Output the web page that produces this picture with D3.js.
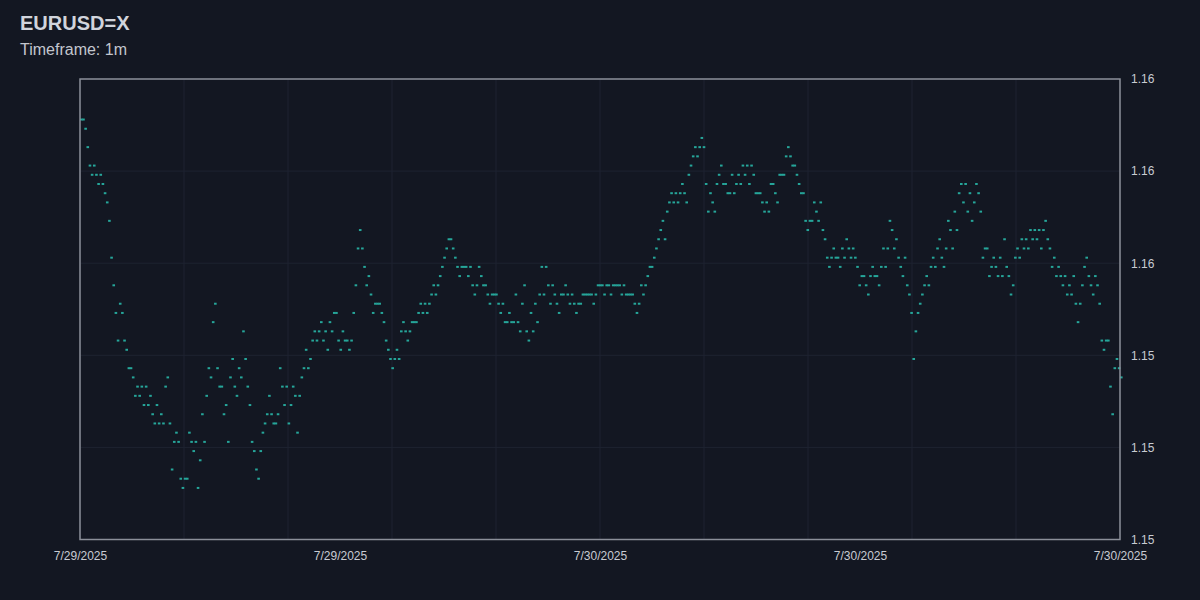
<!DOCTYPE html>
<html>
<head>
<meta charset="utf-8">
<script src="https://cdn.jsdelivr.net/npm/d3@7"></script>
<style>
  html, body { margin: 0; padding: 0; background: #131722; }
  svg { display: block; }
</style>
</head>
<body>
<svg id="chart"></svg>
<script>
const symbol = "EURUSD=X";
const timeframe = "1m";
const startTime = new Date(2025, 6, 29, 12, 0);
const stepMinutes = 3;

const closes = [
  1.1565, 1.1565, 1.1564, 1.1562, 1.1560, 1.1559, 1.1560, 1.1559, 1.1558, 1.1559,
  1.1558, 1.1557, 1.1556, 1.1554, 1.1550, 1.1547, 1.1544, 1.1541, 1.1545, 1.1544,
  1.1541, 1.1540, 1.1538, 1.1538, 1.1537, 1.1535, 1.1536, 1.1535, 1.1536, 1.1534,
  1.1536, 1.1534, 1.1535, 1.1533, 1.1532, 1.1534, 1.1532, 1.1533, 1.1532, 1.1536,
  1.1537, 1.1532, 1.1527, 1.1530, 1.1531, 1.1530, 1.1526, 1.1525, 1.1526, 1.1526,
  1.1531, 1.1530, 1.1529, 1.1530, 1.1525, 1.1528, 1.1533, 1.1530, 1.1535, 1.1538,
  1.1537, 1.1543, 1.1545, 1.1538, 1.1536, 1.1536, 1.1533, 1.1534, 1.1530, 1.1537,
  1.1539, 1.1536, 1.1535, 1.1538, 1.1537, 1.1542, 1.1539, 1.1536, 1.1534, 1.1530,
  1.1529, 1.1527, 1.1526, 1.1529, 1.1531, 1.1532, 1.1533, 1.1535, 1.1533, 1.1532,
  1.1532, 1.1533, 1.1538, 1.1536, 1.1534, 1.1536, 1.1532, 1.1534, 1.1536, 1.1535,
  1.1531, 1.1535, 1.1537, 1.1538, 1.1540, 1.1538, 1.1539, 1.1541, 1.1542, 1.1541,
  1.1542, 1.1543, 1.1541, 1.1542, 1.1540, 1.1543, 1.1542, 1.1544, 1.1544, 1.1541,
  1.1540, 1.1542, 1.1541, 1.1541, 1.1540, 1.1541, 1.1544, 1.1547, 1.1551, 1.1553,
  1.1551, 1.1549, 1.1547, 1.1548, 1.1546, 1.1544, 1.1545, 1.1545, 1.1545, 1.1544,
  1.1543, 1.1541, 1.1540, 1.1539, 1.1538, 1.1539, 1.1540, 1.1539, 1.1542, 1.1543,
  1.1542, 1.1541, 1.1542, 1.1543, 1.1543, 1.1543, 1.1544, 1.1545, 1.1544, 1.1545,
  1.1544, 1.1545, 1.1546, 1.1547, 1.1546, 1.1547, 1.1548, 1.1549, 1.1550, 1.1551,
  1.1552, 1.1552, 1.1551, 1.1550, 1.1549, 1.1548, 1.1549, 1.1549, 1.1549, 1.1548,
  1.1549, 1.1547, 1.1546, 1.1547, 1.1549, 1.1548, 1.1547, 1.1547, 1.1546, 1.1545,
  1.1546, 1.1546, 1.1546, 1.1545, 1.1544, 1.1545, 1.1543, 1.1543, 1.1544, 1.1543,
  1.1543, 1.1546, 1.1543, 1.1542, 1.1545, 1.1547, 1.1542, 1.1541, 1.1544, 1.1542,
  1.1545, 1.1543, 1.1546, 1.1549, 1.1546, 1.1549, 1.1547, 1.1545, 1.1547, 1.1546,
  1.1545, 1.1544, 1.1546, 1.1546, 1.1547, 1.1546, 1.1545, 1.1546, 1.1545, 1.1544,
  1.1545, 1.1545, 1.1546, 1.1546, 1.1546, 1.1546, 1.1546, 1.1545, 1.1546, 1.1547,
  1.1547, 1.1547, 1.1546, 1.1547, 1.1547, 1.1546, 1.1547, 1.1547, 1.1547, 1.1547,
  1.1546, 1.1547, 1.1546, 1.1546, 1.1546, 1.1546, 1.1545, 1.1544, 1.1545, 1.1547,
  1.1546, 1.1547, 1.1548, 1.1549, 1.1549, 1.1550, 1.1551, 1.1552, 1.1553, 1.1554,
  1.1552, 1.1555, 1.1556, 1.1557, 1.1556, 1.1557, 1.1556, 1.1557, 1.1558, 1.1557,
  1.1556, 1.1559, 1.1560, 1.1561, 1.1562, 1.1561, 1.1562, 1.1563, 1.1562, 1.1558,
  1.1555, 1.1557, 1.1556, 1.1555, 1.1558, 1.1559, 1.1560, 1.1558, 1.1558, 1.1557,
  1.1557, 1.1559, 1.1557, 1.1558, 1.1559, 1.1558, 1.1560, 1.1559, 1.1560, 1.1558,
  1.1560, 1.1559, 1.1557, 1.1557, 1.1557, 1.1556, 1.1555, 1.1556, 1.1555, 1.1558,
  1.1558, 1.1557, 1.1556, 1.1559, 1.1559, 1.1559, 1.1561, 1.1562, 1.1561, 1.1560,
  1.1560, 1.1559, 1.1558, 1.1557, 1.1557, 1.1554, 1.1553, 1.1554, 1.1554, 1.1556,
  1.1555, 1.1554, 1.1556, 1.1553, 1.1552, 1.1550, 1.1549, 1.1550, 1.1551, 1.1550,
  1.1550, 1.1549, 1.1551, 1.1550, 1.1552, 1.1551, 1.1550, 1.1551, 1.1550, 1.1549,
  1.1547, 1.1548, 1.1548, 1.1547, 1.1546, 1.1548, 1.1549, 1.1548, 1.1548, 1.1547,
  1.1549, 1.1551, 1.1549, 1.1551, 1.1554, 1.1553, 1.1551, 1.1552, 1.1550, 1.1549,
  1.1548, 1.1550, 1.1547, 1.1546, 1.1544, 1.1539, 1.1542, 1.1544, 1.1545, 1.1546,
  1.1547, 1.1548, 1.1547, 1.1549, 1.1550, 1.1549, 1.1551, 1.1552, 1.1550, 1.1549,
  1.1551, 1.1554, 1.1553, 1.1551, 1.1555, 1.1553, 1.1557, 1.1558, 1.1556, 1.1558,
  1.1555, 1.1557, 1.1554, 1.1556, 1.1558, 1.1557, 1.1555, 1.1550, 1.1551, 1.1551,
  1.1548, 1.1549, 1.1550, 1.1549, 1.1548, 1.1550, 1.1548, 1.1552, 1.1549, 1.1548,
  1.1546, 1.1547, 1.1550, 1.1551, 1.1550, 1.1552, 1.1551, 1.1552, 1.1551, 1.1553,
  1.1552, 1.1553, 1.1552, 1.1553, 1.1551, 1.1553, 1.1554, 1.1552, 1.1551, 1.1549,
  1.1550, 1.1548, 1.1549, 1.1548, 1.1547, 1.1548, 1.1546, 1.1547, 1.1546, 1.1548,
  1.1545, 1.1543, 1.1545, 1.1547, 1.1549, 1.1550, 1.1548, 1.1547, 1.1546, 1.1548,
  1.1547, 1.1545, 1.1541, 1.1540, 1.1541, 1.1541, 1.1536, 1.1533, 1.1538, 1.1539,
  1.1538, 1.1537
];

const yDomain = [1.15194, 1.15694];
const yTickLabels = ["1.15", "1.15", "1.15", "1.16", "1.16", "1.16"];
const xGridCount = 10;
const xLabelCount = 4;

const width = 1200;
const height = 600;
const margin = { top: 79, right: 80, bottom: 60.5, left: 80 };
const innerW = width - margin.left - margin.right;
const innerH = height - margin.top - margin.bottom;

const points = closes.map((c, i) => ({
  time: d3.timeMinute.offset(startTime, i * stepMinutes),
  close: c,
}));

const svg = d3.select("#chart").attr("width", width).attr("height", height);

svg.append("rect").attr("width", width).attr("height", height).attr("fill", "#131722");

svg.append("text")
  .attr("x", 20).attr("y", 30)
  .attr("fill", "#d1d4dc")
  .style("font", "bold 20px 'Liberation Sans', Arial, sans-serif")
  .text(symbol);

svg.append("text")
  .attr("x", 20).attr("y", 55)
  .attr("fill", "#c3c6ce")
  .style("font", "16px 'Liberation Sans', Arial, sans-serif")
  .text(`Timeframe: ${timeframe}`);

const x = d3.scaleTime()
  .domain(d3.extent(points, (d) => d.time))
  .range([0, innerW]);

const y = d3.scaleLinear().domain(yDomain).range([innerH, 0]);

const g = svg.append("g").attr("transform", `translate(${margin.left},${margin.top})`);

// evenly spaced ticks across the domain, like the source chart
const [t0, t1] = x.domain();
const timeAt = (f) => new Date(+t0 + f * (t1 - t0));
const gridTimes = d3.range(xGridCount + 1).map((k) => timeAt(k / xGridCount));
const labelTimes = d3.range(xLabelCount + 1).map((k) => timeAt(k / xLabelCount));
const yTicks = d3.range(yTickLabels.length).map((k) =>
  yDomain[0] + (k * (yDomain[1] - yDomain[0])) / (yTickLabels.length - 1)
);

g.append("g")
  .selectAll("line")
  .data(gridTimes)
  .join("line")
  .attr("x1", (d) => x(d)).attr("x2", (d) => x(d))
  .attr("y1", 0).attr("y2", innerH)
  .attr("stroke", "#1e2331")
  .attr("stroke-width", 1);

g.append("g")
  .selectAll("line")
  .data(yTicks)
  .join("line")
  .attr("x1", 0).attr("x2", innerW)
  .attr("y1", (d) => y(d)).attr("y2", (d) => y(d))
  .attr("stroke", "#1e2331")
  .attr("stroke-width", 1);

// each minute bar is tiny at this zoom, so it shows as a dot
g.append("g")
  .selectAll("rect")
  .data(points)
  .join("rect")
  .attr("x", (d) => x(d.time))
  .attr("y", (d) => y(d.close) - 1)
  .attr("width", 2.6)
  .attr("height", 2)
  .attr("fill", "#26a69a");

g.append("rect")
  .attr("width", innerW)
  .attr("height", innerH)
  .attr("fill", "none")
  .attr("stroke", "#8b8f99")
  .attr("stroke-width", 1.5);

const yAxis = d3.axisRight(y)
  .tickValues(yTicks)
  .tickFormat((d, i) => yTickLabels[i])
  .tickSize(0)
  .tickPadding(11);

g.append("g")
  .attr("transform", `translate(${innerW},0)`)
  .call(yAxis)
  .call((s) => s.select(".domain").remove())
  .selectAll("text")
  .attr("fill", "#c8cbd2")
  .style("font", "12px 'Liberation Sans', Arial, sans-serif");

const xAxis = d3.axisBottom(x)
  .tickValues(labelTimes)
  .tickFormat(d3.timeFormat("%-m/%-d/%Y"))
  .tickSize(0)
  .tickPadding(12);

g.append("g")
  .attr("transform", `translate(0,${innerH})`)
  .call(xAxis)
  .call((s) => s.select(".domain").remove())
  .selectAll("text")
  .attr("fill", "#c8cbd2")
  .style("font", "12px 'Liberation Sans', Arial, sans-serif");
</script>
</body>
</html>
